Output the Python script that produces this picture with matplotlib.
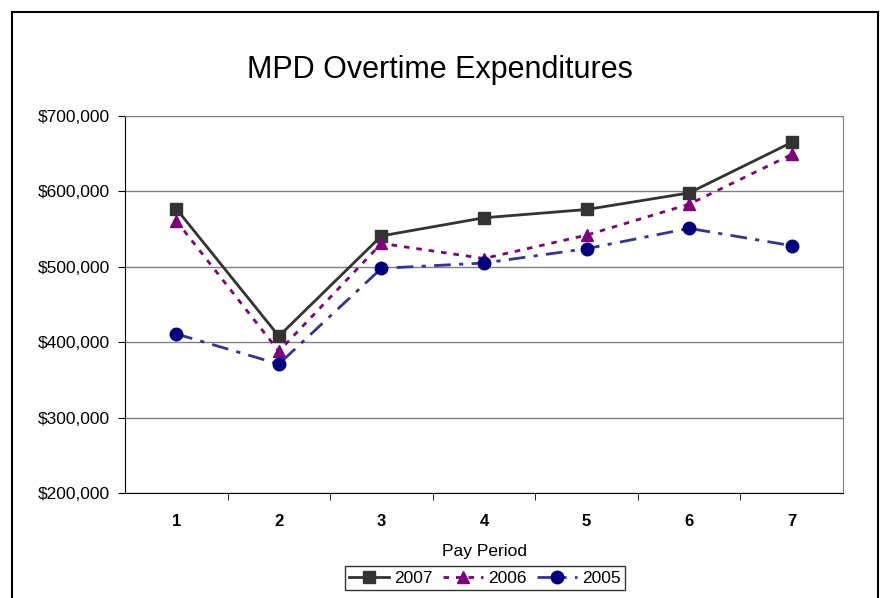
import matplotlib.pyplot as plt
from matplotlib.patches import Rectangle
from matplotlib.ticker import FuncFormatter, FixedLocator

plt.rcParams['font.family'] = ['Liberation Sans', 'DejaVu Sans']

# data
periods = [1, 2, 3, 4, 5, 6, 7]
y2007 = [577000, 408000, 541000, 565000, 576000, 598000, 665000]
y2006 = [561000, 388000, 531000, 511000, 542000, 583000, 649000]
y2005 = [411000, 371000, 498000, 505000, 524000, 551000, 528000]

fig = plt.figure(figsize=(8.81, 5.98), dpi=100)
ax = fig.add_axes([125 / 881, 1 - 493 / 598, 718 / 881, 377 / 598])

# outer chart border
fig.patches.append(Rectangle((12 / 881, -0.05), 866 / 881, 1.05 - 12 / 598,
                             transform=fig.transFigure, fill=False,
                             edgecolor='black', linewidth=1.5))

ax.plot(periods, y2007, color='#333333', linewidth=2, marker='s', markersize=8,
        label='2007')
ax.plot(periods, y2006, color='#800080', linewidth=2, linestyle=(0, (2, 2.5)),
        marker='^', markersize=9, label='2006')
ax.plot(periods, y2005, color='#333399', linewidth=2, linestyle=(0, (6, 3, 1.5, 3)),
        marker='o', markersize=9, markerfacecolor='#000080', markeredgecolor='#000080',
        label='2005')

ax.set_xlim(0.5, 7.5)
ax.set_ylim(200000, 700000)
ax.set_xticks(periods)
ax.set_xticklabels([str(p) for p in periods], fontweight='bold', fontsize=12)
ax.xaxis.set_minor_locator(FixedLocator([1.5, 2.5, 3.5, 4.5, 5.5, 6.5]))
ax.tick_params(axis='x', which='major', length=0, pad=15)
ax.tick_params(axis='x', which='minor', length=5, direction='out')
ax.set_yticks([200000, 300000, 400000, 500000, 600000, 700000])
ax.yaxis.set_major_formatter(FuncFormatter(lambda v, p: '${:,.0f}'.format(v)))
ax.tick_params(axis='y', labelsize=12.5, length=5, direction='out', pad=6)
ax.yaxis.grid(True, color='#808080', linewidth=1)

for s in ['top', 'right']:
    ax.spines[s].set_color('#808080')
for s in ['left', 'bottom']:
    ax.spines[s].set_color('black')

ax.set_xlabel('Pay Period', fontsize=12.5, labelpad=11)
fig.text(440 / 881, 1 - 70 / 598, 'MPD Overtime Expenditures', fontsize=22,
         ha='center', va='center')

leg = fig.legend(loc='center', bbox_to_anchor=(485 / 881, 1 - 578 / 598), ncol=3,
                 frameon=True, fancybox=False, edgecolor='black', fontsize=12.5,
                 handlelength=2.3, columnspacing=0.6, handletextpad=0.3,
                 borderpad=0.25)
leg.get_frame().set_linewidth(1)

fig.savefig('out.png', dpi=100)
